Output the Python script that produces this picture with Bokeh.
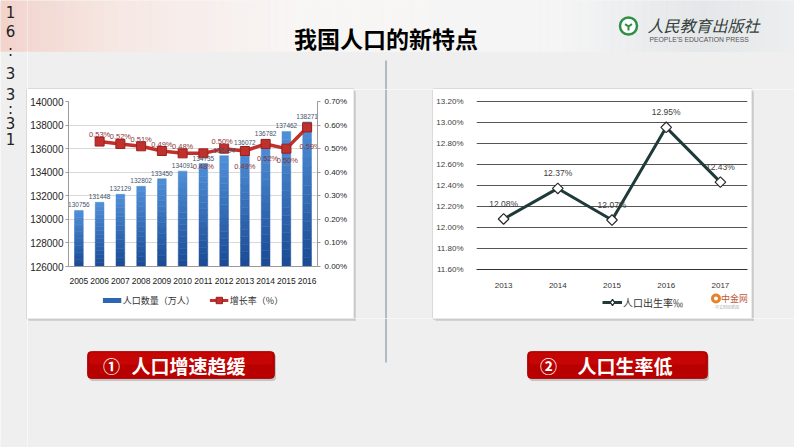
import numpy as np
from bokeh.plotting import figure
from bokeh.models import (Range1d, FactorRange, LinearAxis, FixedTicker, PrintfTickFormatter,
                          NumeralTickFormatter, Legend, LegendItem)
from bokeh.layouts import row, column
from bokeh.core.properties import value
from bokeh.embed import file_html
from bokeh.resources import INLINE

# ---------------- data ----------------
pop_years = ["2005", "2006", "2007", "2008", "2009", "2010",
             "2011", "2012", "2013", "2014", "2015", "2016"]
population = [130756, 131448, 132129, 132802, 133450, 134091,
              134735, 135404, 136072, 136782, 137462, 138271]
rate_years = ["2006", "2007", "2008", "2009", "2010", "2011",
              "2012", "2013", "2014", "2015", "2016"]
growth_rate = [0.53, 0.52, 0.51, 0.49, 0.48, 0.48, 0.50, 0.49, 0.52, 0.50, 0.59]
pop_ticks = [126000, 128000, 130000, 132000, 134000, 136000, 138000, 140000]
rate_ticks = [0.0, 0.1, 0.2, 0.3, 0.4, 0.5, 0.6, 0.7]

birth_years = ["2013", "2014", "2015", "2016", "2017"]
birth_rate = [12.08, 12.37, 12.07, 12.95, 12.43]
birth_ticks = [11.6, 11.8, 12.0, 12.2, 12.4, 12.6, 12.8, 13.0, 13.2]

title_text = "我国人口的新特点"
label_left = "人口增速趋缓"
label_right = "人口生率低"
legend_pop = "人口数量（万人）"
legend_rate = "增长率（%）"
legend_birth = "人口出生率‰"
clock_chars = list("16:33:31")

# ---------------- styles ----------------
BG = "#efefef"
CJK = "Noto Sans CJK SC"
NUM = "Liberation Sans"
rate_label_dy = [-7, -7, -7, -7, -7, 13, -7, 15, 15, 12, 19]
rate_label_dx = [0, 0, 0, 0, 0, 0, -2, 0, 2, 1, 3]
clock_y = [11, 30, 50, 72, 93, 108, 122, 138]
DIV_COLOR = "#75849a"
BOX_COLOR = "#c4c4c4"
SHADOW = "#b0b0b0"
BAR_DARK, BAR_LIGHT = "#1a4a94", "#5090d8"
RED = "#c0312c"
TEAL = "#1f3b39"
NAN = [np.nan]   # legend key renderers draw nothing on the canvas


def hex2rgb(h):
    h = h.lstrip("#")
    return [int(h[i:i + 2], 16) for i in (0, 2, 4)]


def mix(c1, c2, t):
    a, b = hex2rgb(c1), hex2rgb(c2)
    return "#%02x%02x%02x" % tuple(int(round(a[i] + (b[i] - a[i]) * t)) for i in range(3))


def canvas(x0, x1, y0, y1, bg=BG):
    p = figure(width=x1 - x0, height=y1 - y0, x_range=Range1d(x0, x1), y_range=Range1d(y1, y0),
               output_backend="svg", toolbar_location=None, x_axis_type=None, y_axis_type=None,
               min_border=0, background_fill_color=bg, border_fill_color=bg,
               outline_line_color=None)
    p.tags = [x0, x1, y0, y1]
    return p


def segs(p, lines, **kw):
    X0, X1, Y0, Y1 = p.tags
    a0, b0, a1, b1 = [], [], [], []
    for (xa, ya, xb, yb) in lines:
        xl, xr = max(min(xa, xb), X0), min(max(xa, xb), X1)
        yt, yb2 = max(min(ya, yb), Y0), min(max(ya, yb), Y1)
        if xl <= xr and yt <= yb2:
            a0.append(xl); b0.append(yt); a1.append(xr); b1.append(yb2)
    if a0:
        p.segment(x0=a0, y0=b0, x1=a1, y1=b1, **kw)


def decorate(p):
    segs(p, [(385.5, 60, 385.5, 362)], line_color=DIV_COLOR, line_width=1)
    segs(p, [(28, 319.5, 355, 319.5), (435, 319.5, 753, 319.5),
             (354.5, 91, 354.5, 320), (752.5, 91, 752.5, 320)],
         line_color=SHADOW, line_width=1.6, line_alpha=0.6)
    segs(p, [(26.5, 88.5, 353.5, 88.5), (26.5, 318.5, 353.5, 318.5),
             (26.5, 88.5, 26.5, 318.5), (353.5, 88.5, 353.5, 318.5),
             (432.5, 88.5, 751.5, 88.5), (432.5, 318.5, 751.5, 318.5),
             (432.5, 88.5, 432.5, 318.5), (751.5, 88.5, 751.5, 318.5)],
         line_color=BOX_COLOR, line_width=1)


stops = [(0, "#f2d3cc"), (120, "#f6e8e4"), (300, "#f8f6f5"), (560, "#f5f5f5"),
         (700, "#e4e7e9"), (794, "#eceeef")]


def band(p):
    X0, X1, Y0, Y1 = p.tags
    edges = np.linspace(0, 794, 101)
    L, R, C = [], [], []
    for a, b in zip(edges[:-1], edges[1:]):
        if b <= X0 or a >= X1:
            continue
        m = (a + b) / 2
        for (xa, ca), (xb, cb) in zip(stops[:-1], stops[1:]):
            if xa <= m <= xb:
                C.append(mix(ca, cb, (m - xa) / (xb - xa)))
                break
        L.append(max(a, X0)); R.append(min(b, X1))
    p.quad(left=L, right=R, top=0, bottom=51, fill_color=C, line_color=C, line_width=0.6)


# ---------------- left strip (clock) ----------------
strip = canvas(0, 27, 0, 447)
band(strip)
decorate(strip)
strip.text(x=[10] * len(clock_chars), y=clock_y, text=clock_chars,
           text_font=value("DejaVu Sans"), text_font_size="15px", text_color="#222222",
           text_align="center", text_baseline="middle")

# ---------------- header ----------------
header = canvas(27, 794, 0, 89)
band(header)
header.text(x=[385.5], y=[37.5], text=[title_text], text_font=value(CJK), text_font_style="bold",
            text_font_size="23px", text_color="#000000", text_align="center", text_baseline="middle")
header.scatter(x=[628], y=[25.5], marker="circle", size=17, fill_color="white",
               line_color="#2f8f45", line_width=2.5)
header.scatter(x=[628], y=[26], marker="y", size=8, line_color="#2f8f45", line_width=2)
header.text(x=[647], y=[24], text=["人民教育出版社"], text_font=value(CJK), text_font_style="italic",
            text_font_size="16px", text_color="#34403a", text_align="left", text_baseline="middle")
header.text(x=[649], y=[38.5], text=["PEOPLE'S EDUCATION PRESS"], text_font=value(NUM),
            text_font_size="6.8px", text_color="#555555", text_align="left", text_baseline="middle")
decorate(header)

midpad = canvas(353, 433, 89, 318)
decorate(midpad)
rightpad = canvas(751, 794, 89, 318)
decorate(rightpad)

# ---------------- left chart ----------------
p1 = figure(width=326, height=200, x_range=FactorRange(factors=pop_years),
            y_range=Range1d(126000, 140000), output_backend="svg", toolbar_location=None,
            min_border_left=41, min_border_right=36, min_border_top=12, min_border_bottom=23,
            background_fill_color="white", border_fill_color="white", outline_line_color=None)
p1.extra_y_ranges = {"rate": Range1d(0, 0.7)}
p1.xgrid.visible = False
p1.ygrid.ticker = FixedTicker(ticks=pop_ticks)
p1.ygrid.grid_line_color = "#d9d9d9"

p1.yaxis.ticker = FixedTicker(ticks=pop_ticks)
p1.yaxis.formatter = NumeralTickFormatter(format="0")
p1.yaxis.minor_tick_line_color = None
p1.yaxis.major_tick_out = 3
p1.yaxis.major_tick_in = 0
p1.yaxis.major_label_standoff = 2
p1.yaxis.axis_line_color = "#9a9a9a"
p1.yaxis.major_tick_line_color = "#9a9a9a"
p1.yaxis.major_label_text_font = NUM
p1.yaxis.major_label_text_font_size = "10px"
p1.yaxis.major_label_text_color = "#262626"

ax_r = LinearAxis(y_range_name="rate", ticker=FixedTicker(ticks=rate_ticks),
                  formatter=PrintfTickFormatter(format="%.2f%%"))
ax_r.minor_tick_line_color = None
ax_r.major_tick_out = 3
ax_r.major_tick_in = 0
ax_r.major_label_standoff = 4
ax_r.axis_line_color = "#9a9a9a"
ax_r.major_tick_line_color = "#9a9a9a"
ax_r.major_label_text_font = NUM
ax_r.major_label_text_font_size = "8px"
ax_r.major_label_text_color = "#262626"
p1.add_layout(ax_r, "right")

p1.xaxis.axis_line_color = "#9a9a9a"
p1.xaxis.major_tick_line_color = None
p1.xaxis.major_label_standoff = 5
p1.xaxis.major_label_text_font = NUM
p1.xaxis.major_label_text_font_size = "8.5px"
p1.xaxis.major_label_text_color = "#1a1a1a"

n_sl = 16
base = pop_ticks[0]
for k in range(n_sl):
    f0, f1 = k / n_sl, (k + 1) / n_sl
    bottoms = [base + (v - base) * f0 for v in population]
    tops = [base + (v - base) * f1 for v in population]
    col = mix(BAR_DARK, BAR_LIGHT, (k + 0.5) / n_sl)
    p1.vbar(x=pop_years, bottom=bottoms, top=tops, width=0.42, fill_color=col,
            line_color=col, line_width=0.5)

p1.line(x=rate_years, y=growth_rate, y_range_name="rate", line_color=RED, line_width=3.5)
p1.scatter(x=rate_years, y=growth_rate, y_range_name="rate", marker="square", size=9,
           fill_color=RED, line_color="#9c1f1f", line_width=1)

p1.text(x=pop_years, y=population, text=[str(v) for v in population], text_font=value(NUM),
        text_font_size="6.5px", text_color="#44546a", text_align="center",
        text_baseline="bottom", y_offset=-3)
p1.text(x=rate_years, y=growth_rate, y_range_name="rate",
        text=["%.2f%%" % v for v in growth_rate], text_font=value(NUM),
        text_font_size="7.5px", text_color="#8b3535", text_align="center",
        text_baseline="middle", x_offset=rate_label_dx, y_offset=rate_label_dy)

# legend strip of the left chart box
lg1 = canvas(27, 353, 289, 318, bg="white")
k_bar = lg1.line(x=NAN, y=NAN, line_color="#2e66b3", line_width=5)
k_line = lg1.line(x=NAN, y=NAN, line_color=RED, line_width=3)
k_pt = lg1.scatter(x=NAN, y=NAN, marker="square", fill_color=RED, line_color="#9c1f1f")
lg1.add_layout(Legend(items=[LegendItem(label=legend_pop, renderers=[k_bar]),
                             LegendItem(label=legend_rate, renderers=[k_line, k_pt])],
                      orientation="horizontal", location="top_center", margin=3,
                      glyph_width=19, glyph_height=16, label_text_font=CJK,
                      label_text_font_size="9px", label_text_color="#333333",
                      label_standoff=2, spacing=14, padding=0, border_line_color=None,
                      background_fill_alpha=0))

# ---------------- right chart ----------------
p2 = figure(width=318, height=201, x_range=FactorRange(factors=birth_years),
            y_range=Range1d(11.6, 13.205), output_backend="svg", toolbar_location=None,
            min_border_left=42, min_border_right=4, min_border_top=11, min_border_bottom=19,
            background_fill_color="white", border_fill_color="white", outline_line_color=None)
p2.xgrid.visible = False
p2.ygrid.ticker = FixedTicker(ticks=birth_ticks)
p2.ygrid.grid_line_color = "#555555"
p2.ygrid.grid_line_width = 1

p2.yaxis.ticker = FixedTicker(ticks=birth_ticks)
p2.yaxis.formatter = PrintfTickFormatter(format="%.2f%%")
p2.yaxis.axis_line_color = None
p2.yaxis.major_tick_line_color = None
p2.yaxis.minor_tick_line_color = None
p2.yaxis.major_label_standoff = 7
p2.yaxis.major_label_text_font = NUM
p2.yaxis.major_label_text_font_size = "8px"
p2.yaxis.major_label_text_color = "#404040"

p2.xaxis.axis_line_color = "#333333"
p2.xaxis.major_tick_line_color = None
p2.xaxis.major_label_standoff = 7
p2.xaxis.major_label_text_font = NUM
p2.xaxis.major_label_text_font_size = "8px"
p2.xaxis.major_label_text_color = "#333333"

p2.line(x=birth_years, y=birth_rate, line_color=TEAL, line_width=3)
p2.scatter(x=birth_years, y=birth_rate, marker="square", angle=np.pi / 4, size=7.5,
           fill_color="white", line_color="#2a2a2a", line_width=1.2)
p2.text(x=birth_years, y=birth_rate, text=["%.2f%%" % v for v in birth_rate],
        text_font=value(NUM), text_font_size="8.5px", text_color="#404040",
        text_align="center", text_baseline="middle", y_offset=-15)

lg2 = canvas(433, 751, 290, 318, bg="white")
k2_line = lg2.line(x=NAN, y=NAN, line_color=TEAL, line_width=3)
k2_pt = lg2.scatter(x=NAN, y=NAN, marker="diamond", fill_color="white", line_color="#2a2a2a",
                    line_width=1.2)
lg2.add_layout(Legend(items=[LegendItem(label=legend_birth, renderers=[k2_line, k2_pt])],
                      orientation="horizontal", location=(126, 8),
                      glyph_width=20, glyph_height=16, label_text_font=CJK,
                      label_text_font_size="10px", label_text_color="#333333",
                      label_standoff=1, padding=0, margin=0, border_line_color=None,
                      background_fill_alpha=0))
# source watermark
lg2.scatter(x=[714], y=[298], marker="circle", size=10, fill_color="#e5822b", line_color=None)
lg2.scatter(x=[714], y=[298], marker="circle", size=4, fill_color="white", line_color=None)
lg2.text(x=[720], y=[298], text=["中金网"], text_font=value(CJK), text_font_size="9px",
         text_color="#c0593a", text_align="left", text_baseline="middle")
lg2.text(x=[713], y=[306], text=["中文财经新闻"], text_font=value(CJK), text_font_size="4px",
         text_color="#aaaaaa", text_align="left", text_baseline="middle")

# ---------------- footer ----------------
footer = canvas(27, 794, 318, 447)
decorate(footer)
for (l, r) in [(87, 274), (527, 707)]:
    footer.quad(left=[l + 1.5], right=[r + 1.5], top=[353], bottom=[380.5], fill_color="#000000",
                fill_alpha=0.18, line_color=None, border_radius=4)
    footer.quad(left=[l], right=[r], top=[351], bottom=[378], fill_color="#b80000",
                line_color="#a50000", line_width=0.8, border_radius=4)
    footer.quad(left=[l + 2], right=[r - 2], top=[352], bottom=[364], fill_color="#d20a0a",
                fill_alpha=0.55, line_color=None, border_radius=3)
footer.text(x=[111, 548], y=[364.5, 364.5], text=["①", "②"], text_font=value(CJK),
            text_font_style="bold", text_font_size="17px", text_color="white",
            text_align="center", text_baseline="middle")
footer.text(x=[131, 577], y=[364.5, 364.5], text=[label_left, label_right], text_font=value(CJK),
            text_font_style="bold", text_font_size="19px", text_color="white",
            text_align="left", text_baseline="middle")

middle = row(column(p1, lg1), midpad, column(p2, lg2), rightpad)
layout = row(strip, column(header, middle, footer))

html = file_html(layout, INLINE, title="我国人口的新特点")
html = html.replace("<body>", '<body style="background-color:#efefef;">', 1)
open("out.html", "w").write(html)
